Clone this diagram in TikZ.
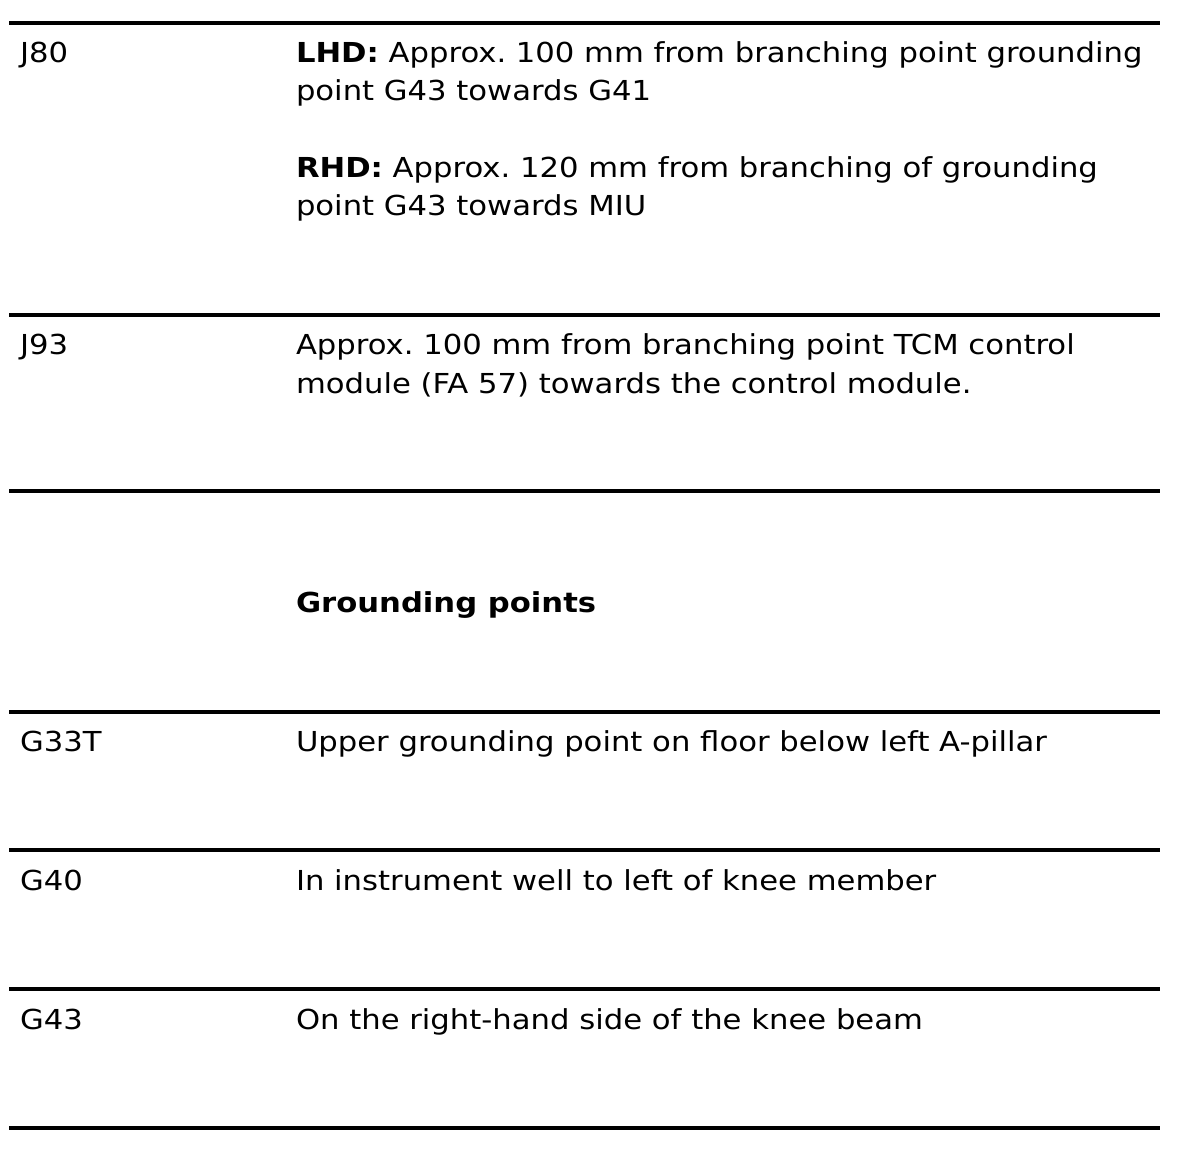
\documentclass[tikz,border=0pt]{standalone}
\usepackage{fontspec}
\setmainfont[FakeStretch=1.115]{DejaVu Sans}
\frenchspacing
\begin{document}
\begin{tikzpicture}[x=1pt,y=-1pt,
  rule/.style={line width=3.4pt,black},
  txt/.style={anchor=base west,inner sep=0pt,outer sep=0pt,font=\fontsize{27.5}{38}\selectfont}]
\useasboundingbox (0,0) rectangle (1184,1150);
% rules
\foreach \y/\n in {23/r1,315/r2,491/r3,712/r4,850/r5,989/r6,1128/r7}{
  \coordinate (\n a) at (9,\y);
  \coordinate (\n b) at (1160,\y);
  \draw[rule] (\n a) -- (\n b);
}
% J80
\node[txt] (j80) at (20,63) {J80};
\node[txt] (j80a) at (296,63) {\textbf{LHD:} Approx. 100 mm from branching point grounding};
\node[txt] (j80b) at (296,101) {point G43 towards G41};
\node[txt] (j80c) at (296,178) {\textbf{RHD:} Approx. 120 mm from branching of grounding};
\node[txt] (j80d) at (296,216) {point G43 towards MIU};
% J93
\node[txt] (j93) at (20,355) {J93};
\node[txt] (j93a) at (296,355) {Approx. 100 mm from branching point TCM control};
\node[txt] (j93b) at (296,393) {module (FA 57) towards the control module.};
% heading
\node[txt] (head) at (296,612) {\textbf{Grounding points}};
% G33T
\node[txt] (g33) at (20,751) {G33T};
\node[txt] (g33a) at (296,751) {Upper grounding point on floor below left A-pillar};
% G40
\node[txt] (g40) at (20,890) {G40};
\node[txt] (g40a) at (296,890) {In instrument well to left of knee member};
% G43
\node[txt] (g43) at (20,1029) {G43};
\node[txt] (g43a) at (296,1029) {On the right-hand side of the knee beam};
\end{tikzpicture}
\end{document}
